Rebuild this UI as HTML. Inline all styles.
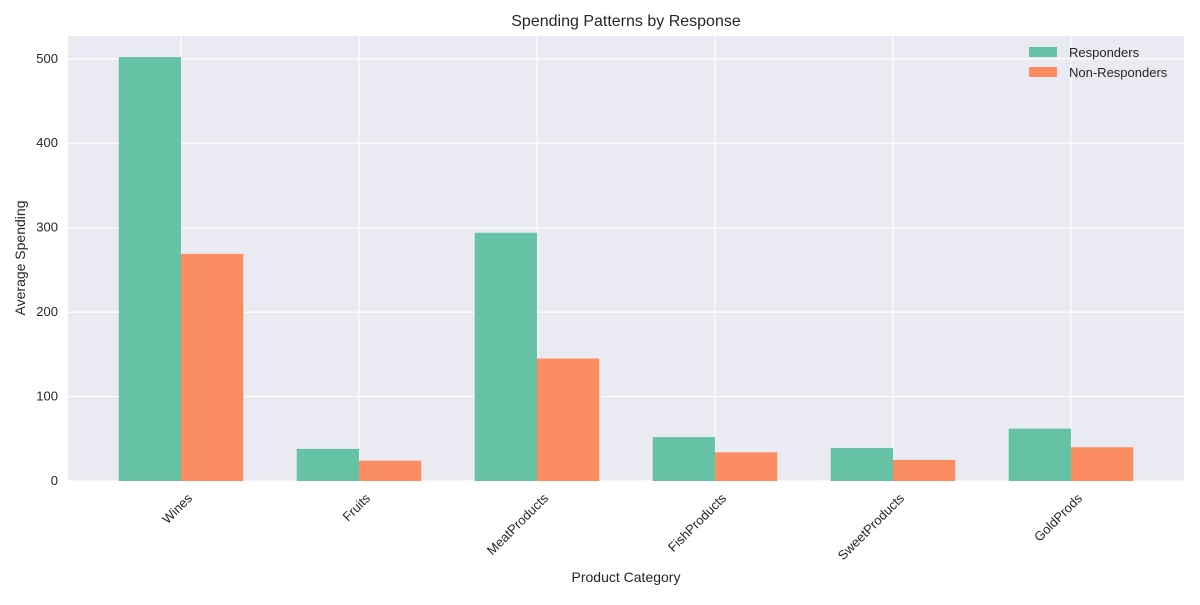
<!DOCTYPE html>
<html><head><meta charset="utf-8"><style>
body{margin:0;background:#fff;font-family:"Liberation Sans",sans-serif;}
</style></head><body>
<svg id="chart" width="1200" height="600" xmlns="http://www.w3.org/2000/svg"></svg>
<script>
const categories=["Wines","Fruits","MeatProducts","FishProducts","SweetProducts","GoldProds"];
const responders=[502,38,294,52,39,62];
const nonResponders=[269,24,145,34,25,40];
const yTicks=[0,100,200,300,400,500];
const svg=document.getElementById('chart');
const NS="http://www.w3.org/2000/svg";
const L=68,R=1184,T=36,B=481;
const xmin=-0.635,xmax=5.635,ymax=527;
const xs=v=>L+(v-xmin)/(xmax-xmin)*(R-L);
const ys=v=>B-v/ymax*(B-T);
function el(tag,attrs,text){const e=document.createElementNS(NS,tag);for(const k in attrs)e.setAttribute(k,attrs[k]);if(text!==undefined)e.textContent=text;svg.appendChild(e);return e;}
let e=el('rect',{x:L,y:T,width:R-L,height:B-T,fill:'#eaeaf2'});

yTicks.forEach(t=>{
 let g=el('line',{x1:L,x2:R,y1:ys(t),y2:ys(t),stroke:'#fff','stroke-width':1.2});
 
 let tx=el('text',{x:L-10,y:ys(t)+4,'text-anchor':'end','font-size':13,fill:'#262626'},t);
 
});
categories.forEach((c,i)=>{
 let g=el('line',{x1:xs(i),x2:xs(i),y1:T,y2:B,stroke:'#fff','stroke-width':1.2});
 
});
const w=0.35;
categories.forEach((c,i)=>{
 let b1=el('rect',{x:xs(i-w),y:ys(responders[i]),width:xs(i)-xs(i-w),height:B-ys(responders[i]),fill:'#66c2a5'});
 
 let b2=el('rect',{x:xs(i),y:ys(nonResponders[i]),width:xs(i+w)-xs(i),height:B-ys(nonResponders[i]),fill:'#fc8d62'});
 
 const x=xs(i)+12,y=B+18;
 let tx=el('text',{x:x,y:y,'text-anchor':'end','font-size':13,fill:'#262626',transform:`rotate(-45 ${x} ${y})`},c);
 
});
let t1=el('text',{x:626,y:26,'text-anchor':'middle','font-size':16,fill:'#262626'},'Spending Patterns by Response');

let t2=el('text',{x:626,y:582,'text-anchor':'middle','font-size':14,fill:'#262626'},'Product Category');

let t3=el('text',{x:25,y:258,'text-anchor':'middle','font-size':14,fill:'#262626',transform:'rotate(-90 25 258)'},'Average Spending');

[['Responders','#66c2a5',53],['Non-Responders','#fc8d62',73]].forEach(([n,c,y])=>{
 let r=el('rect',{x:1029,y:y-6,width:28,height:10,fill:c});
 
 let t=el('text',{x:1069,y:y+4,'font-size':13,fill:'#262626'},n);
 
});
</script>
</body></html>
